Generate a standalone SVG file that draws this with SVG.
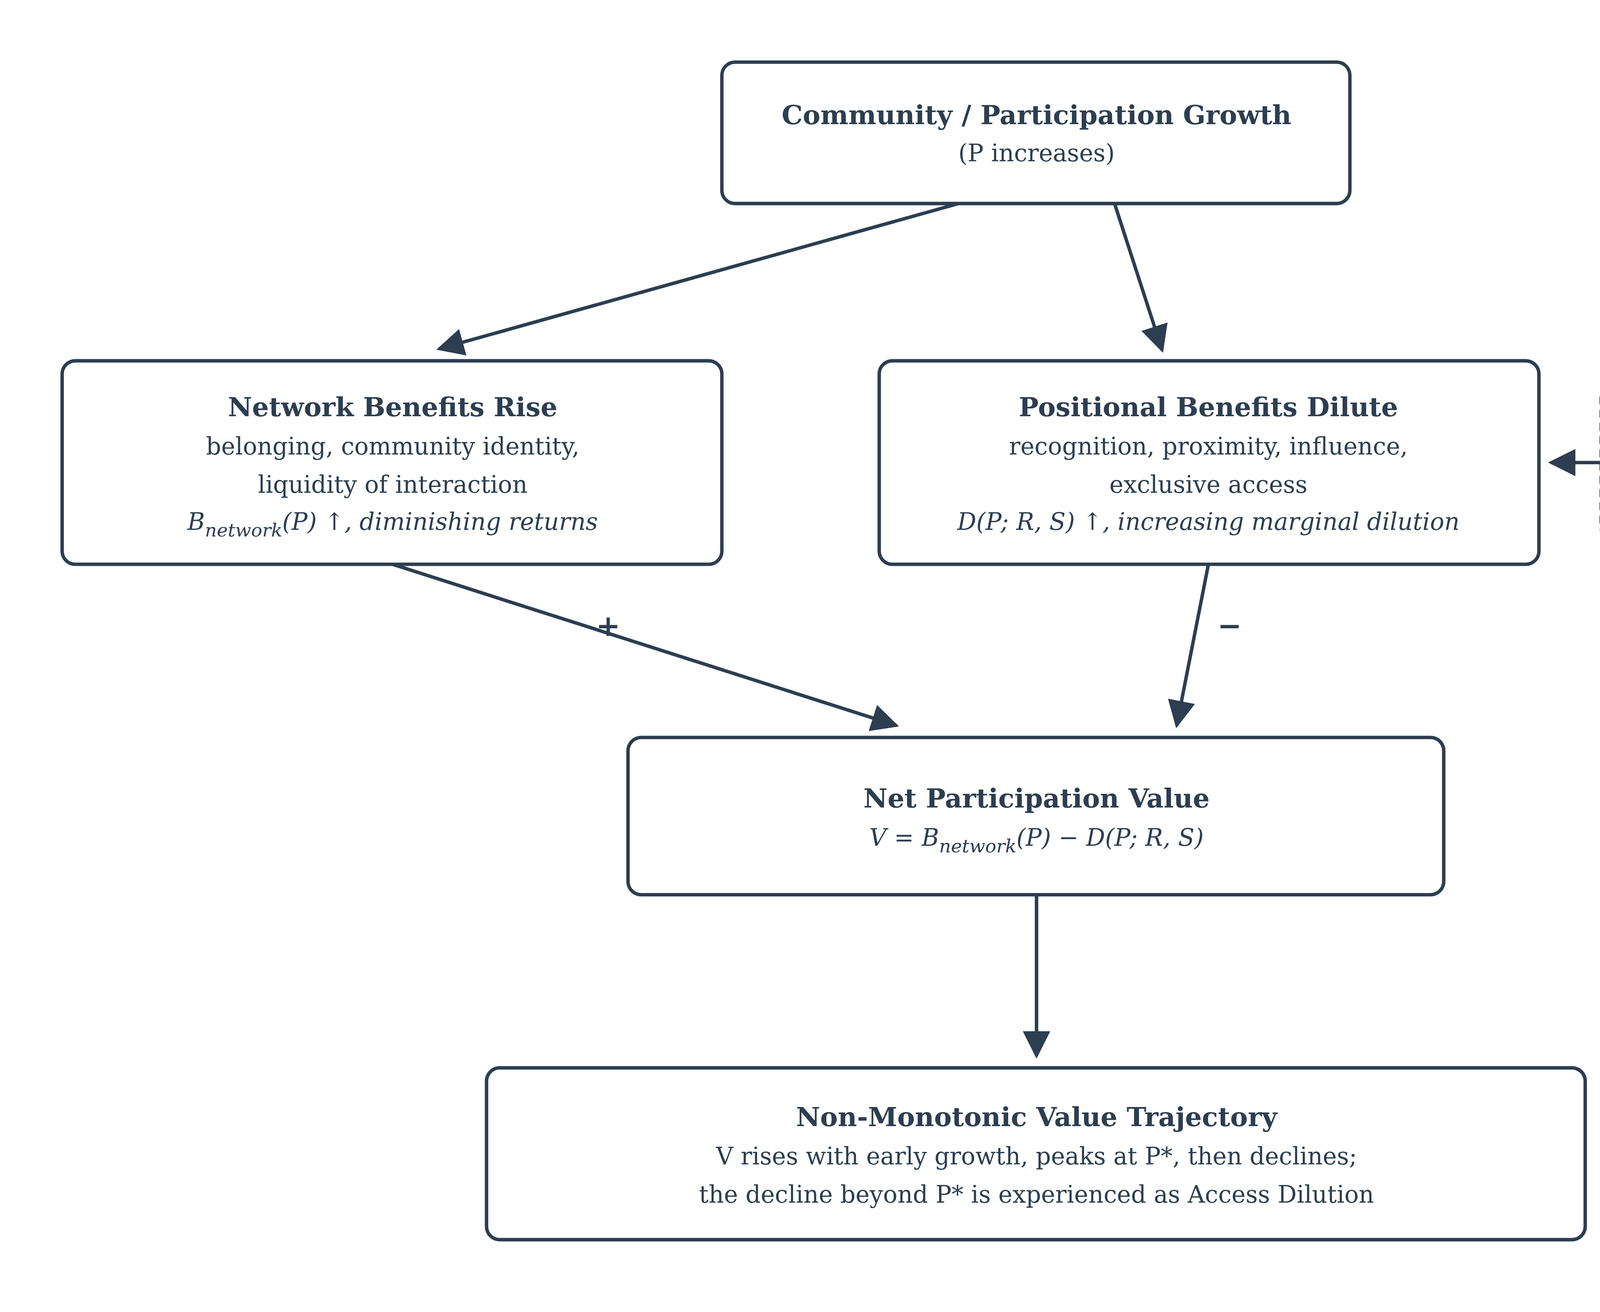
<svg xmlns="http://www.w3.org/2000/svg" width="5280" height="3360" viewBox="0 0 5280 3360">
<style>
.b{fill:#fff;stroke:#2c3e50;stroke-width:2.6}
.d{fill:#fff;stroke:#2c3e50;stroke-width:2.4;stroke-dasharray:6 4}
text{font-family:"DejaVu Serif",serif;fill:#2c3e50;text-anchor:middle}
.t{font-size:20px;font-weight:bold}
.s{font-size:18px}
.i{font-size:18px;font-style:italic}
.ct{font-size:18px;font-weight:bold}
.cs{font-size:15px}
.c{stroke:#2c3e50;stroke-width:2.6;fill:none;marker-end:url(#a)}
.l{font-size:22px;font-weight:bold}
</style>
<defs><marker id="a" viewBox="0 0 10 10" refX="9" refY="5" markerWidth="8" markerHeight="8" markerUnits="userSpaceOnUse" orient="auto"><path d="M0,0L10,5L0,10z" fill="#2c3e50"/></marker>
<marker id="m" viewBox="0 0 10 10" refX="9" refY="5" markerWidth="8" markerHeight="8" orient="auto"><path d="M0,0L10,5L0,10z" fill="#2c3e50"/></marker></defs>
<rect width="5280" height="3360" fill="#fff"/>
<g transform="scale(3.3846)">
<g id="connectors">
<path class="c" style="marker-end:url(#m)" d="M725,154L332,264"/>
<path class="c" style="marker-end:url(#m)" d="M843,154L879,265"/>
<path class="c" style="marker-end:url(#m)" d="M297,427L678,549"/>
<path class="c" style="marker-end:url(#m)" d="M914,427L890,549"/>
<path class="c" style="marker-end:url(#m)" d="M784,677L784,799"/>
<path class="c" style="marker-end:url(#m)" d="M1211,350L1173,350"/>
<text class="l" x="460" y="481">+</text>
<text class="l" x="930" y="481">−</text>
</g>
<g id="top"><rect class="b" x="546" y="47" width="475" height="107" rx="10"/>
<text class="t" x="784" y="94">Community / Participation Growth</text>
<text class="s" x="784" y="122">(P increases)</text></g>
<g id="network"><rect class="b" x="47" y="273" width="499" height="154" rx="10"/>
<text class="t" x="297" y="315">Network Benefits Rise</text>
<text class="s" x="297" y="344">belonging, community identity,</text>
<text class="s" x="297" y="373">liquidity of interaction</text>
<text class="i" x="297" y="401">B<tspan font-size="14" dy="5">network</tspan><tspan dy="-5">(P) ↑, diminishing returns</tspan></text></g>
<g id="positional"><rect class="b" x="665" y="273" width="499" height="154" rx="10"/>
<text class="t" x="914" y="315">Positional Benefits Dilute</text>
<text class="s" x="914" y="344">recognition, proximity, influence,</text>
<text class="s" x="914" y="373">exclusive access</text>
<text class="i" x="914" y="401">D(P; R, S) ↑, increasing marginal dilution</text></g>
<g id="constraint"><rect class="d" x="1211" y="291" width="321" height="118" rx="10"/>
<text class="ct" x="1371" y="320">Constraint</text>
<text class="cs" x="1371" y="345">scarce resources R (attention,</text>
<text class="cs" x="1371" y="370">slots, recognition capacity)</text>
<text class="cs" x="1371" y="395">fixed or slowly expanding</text></g>
<g id="net"><rect class="b" x="475" y="558" width="617" height="119" rx="10"/>
<text class="t" x="784" y="611">Net Participation Value</text>
<text class="i" x="784" y="640">V = B<tspan font-size="14" dy="5">network</tspan><tspan dy="-5">(P) − D(P; R, S)</tspan></text></g>
<g id="trajectory"><rect class="b" x="368" y="808" width="831" height="130" rx="10"/>
<text class="t" x="784" y="852">Non-Monotonic Value Trajectory</text>
<text class="s" x="784" y="881">V rises with early growth, peaks at P*, then declines;</text>
<text class="s" x="784" y="910">the decline beyond P* is experienced as Access Dilution</text></g>
</g>
</svg>
